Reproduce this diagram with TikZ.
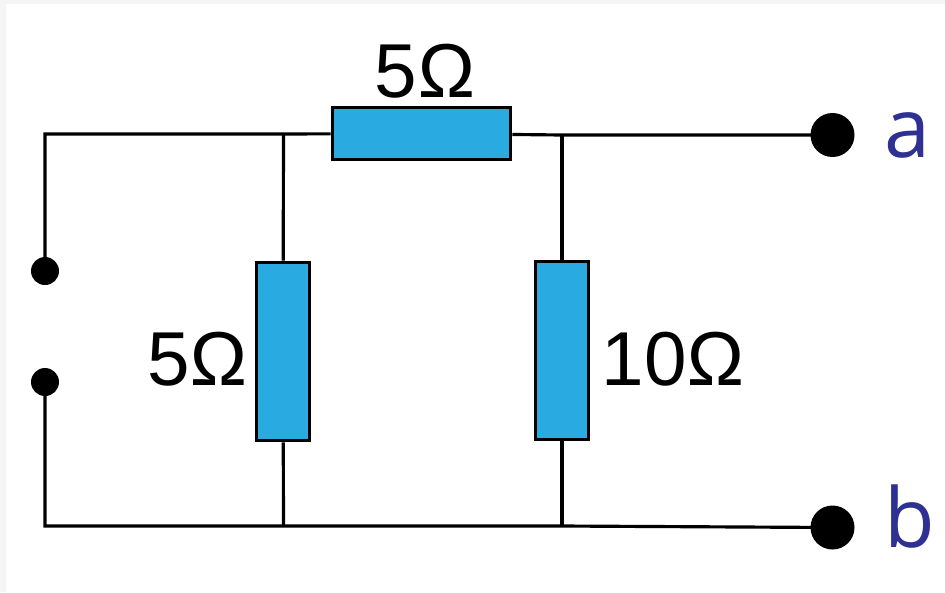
\documentclass[tikz,border=0pt]{standalone}
\usepackage{fontspec}
\setmainfont{Liberation Sans}
\newfontfamily\labelfont{Open Sans}
\usepackage{tikz}
\usetikzlibrary{positioning}
\definecolor{resblue}{HTML}{29ABE2}
\definecolor{termblue}{HTML}{2E3192}
\definecolor{pagegray}{HTML}{F5F5F5}
\tikzset{
    wire/.style={line width=1.8pt},
    hres/.style={draw, line width=1.8pt, fill=resblue, minimum width=3.57cm, minimum height=1.04cm, inner sep=0pt},
    vres/.style={draw, line width=1.8pt, fill=resblue, minimum width=1.06cm, minimum height=3.57cm, inner sep=0pt},
    bigterm/.style={circle, fill=black, minimum size=0.88cm, inner sep=0pt},
    smallterm/.style={circle, fill=black, minimum size=0.56cm, inner sep=0pt},
    value/.style={font=\fontsize{43.5}{43.5}\selectfont, inner sep=0pt},
    termlabel/.style={font=\labelfont\fontsize{47}{47}\selectfont, text=termblue, inner sep=0pt}
}
\begin{document}
\begin{tikzpicture}[x=0.02cm, y=-0.02cm]
    \useasboundingbox (0,0) rectangle (945,592);
    \fill [pagegray] (0,0) rectangle (945,592);
    \fill [white] (6,4) rectangle (945,592);

    % Terminals
    \node [bigterm]   (a)  at (832.5,135) {};
    \node [bigterm]   (b)  at (832.5,527.5) {};
    \node [smallterm] (p1) at (45,271)  {};
    \node [smallterm] (p2) at (45,382)  {};

    % Corners and junctions
    \coordinate (tl) at (45,134);
    \coordinate (bl) at (45,526);
    \coordinate (j1) at (283.5,134);
    \coordinate (j2) at (562,135);
    \coordinate (j3) at (283.5,526);
    \coordinate (j4) at (562,526);

    % Resistors
    \node [hres] (r1) at (421.5,133.5) {};
    \node [vres] (r2) at (283,351.5)   {};
    \node [vres] (r3) at (562,350.5)   {};

    % Wires
    \draw [wire] (p1.center) -- (tl) -- (j1) -- (r1);
    \draw [wire] (r1) -- (j2) -- (a.center);
    \draw [wire] (p2.center) -- (bl) -- (j3) -- (j4) -- (b.center);
    \draw [wire] (j1) -- (r2) -- (j3);
    \draw [wire] (j2) -- (r3) -- (j4);

    % Labels
    \node [value, above=4pt of r1, xshift=0.08cm] (v1) {5\textohm};
    \node [value, left=3.5pt of r2, yshift=-0.16cm]  (v2) {5\textohm};
    \node [value, right=6.5pt of r3, yshift=-0.18cm] (v3) {10\textohm};
    \node [termlabel, anchor=base west] (la) at (884,157) {a};
    \node [termlabel, anchor=base west] (lb) at (884,547) {b};
\end{tikzpicture}
\end{document}
